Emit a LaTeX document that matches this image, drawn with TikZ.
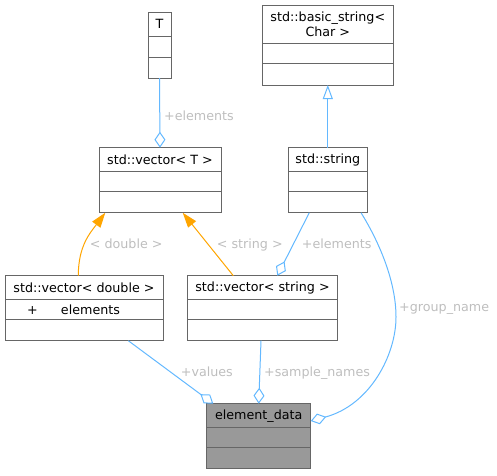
\documentclass[tikz,border=0pt]{standalone}
\usepackage{fontspec}
\setmainfont{DejaVu Sans}
\usetikzlibrary{arrows.meta,positioning}
\definecolor{edgeblue}{HTML}{63B8FF}
\definecolor{inhorange}{HTML}{FFA500}
\definecolor{lblgray}{HTML}{BEBEBE}
\definecolor{boxgray}{HTML}{666666}
\definecolor{cellgray}{HTML}{999999}

\begin{document}
\begin{tikzpicture}[x=1pt,y=-1pt,line width=1pt,
  cell/.style={draw=boxgray,fill=white,inner sep=0pt,outer sep=0pt,minimum height=20,font=\fontsize{12.7}{15}\selectfont},
  head/.style={cell,minimum height=24,anchor=north west},
  lbl/.style={text=lblgray,inner sep=1pt,anchor=base west,font=\fontsize{12.7}{15}\selectfont},
  aggr/.style={draw=edgeblue,-{Diamond[open,length=16,width=11]}},
  inh/.style={draw=inhorange,-{Triangle[length=15,width=10]}},
  gen/.style={draw=edgeblue,-{Triangle[open,length=14,width=10]}}]
\path[use as bounding box] (0,0) rectangle (497,475);
% T
\node[head,minimum width=23] (tT) at (148,12) {T};
\node[cell,minimum width=23,minimum height=21,below=0pt of tT] (tTa) {};
\node[cell,minimum width=23,minimum height=21,below=0pt of tTa] (tTo) {};
% std::vector< T >
\node[head,minimum width=122] (vecT) at (99,147.7) {std::vector< T >};
\node[cell,minimum width=122,below=0pt of vecT] (vecTa) {};
\node[cell,minimum width=122,minimum height=21,below=0pt of vecTa] (vecTo) {};
% std::basic_string< Char >
\node[head,minimum width=131,minimum height=38,align=center] (bs) at (262.3,5) {std::basic\_string<\\Char >};
\node[cell,minimum width=131,below=0pt of bs] (bsa) {};
\node[cell,minimum width=131,minimum height=22,below=0pt of bsa] (bsO) {};
% std::string
\node[head,minimum width=79] (str) at (288.3,147.7) {std::string};
\node[cell,minimum width=79,below=0pt of str] (stra) {};
\node[cell,minimum width=79,minimum height=21,below=0pt of stra] (strO) {};
% std::vector< double >
\node[head,minimum width=158] (vecD) at (5,275.7) {std::vector< double >};
\node[cell,minimum width=158,text width=158,align=left,below=0pt of vecD] (vecDa) {\hspace*{22pt}\makebox[34pt][l]{+}elements};
\node[cell,minimum width=158,minimum height=21,below=0pt of vecDa] (vecDo) {};
% std::vector< string >
\node[head,minimum width=150.4] (vecS) at (187.3,275.7) {std::vector< string >};
\node[cell,minimum width=150.4,below=0pt of vecS] (vecSa) {};
\node[cell,minimum width=150.4,minimum height=21,below=0pt of vecSa] (vecSo) {};
% element_data
\node[head,fill=cellgray,minimum width=104] (ed) at (206.7,403.7) {element\_data};
\node[cell,fill=cellgray,minimum width=104,below=0pt of ed] (eda) {};
\node[cell,fill=cellgray,minimum width=104,minimum height=21,below=0pt of eda] (edo) {};

% connectors
\draw[aggr] (tTo.south) -- (vecT.north);
\draw[gen] (str.north) -- (bsO.south);
\draw[inh] ([xshift=-5.7]vecD.north) .. controls +(0,-30) and +(-15,20) .. ([xshift=-54.7]vecTo.south);
\draw[inh] ([xshift=-29.2]vecS.north) -- ([xshift=22.7]vecTo.south);
\draw[aggr] ([xshift=-18.5]strO.south) -- ([xshift=14.8]vecS.north);
\draw[aggr] ([xshift=44.3]vecDo.south) -- ([xshift=-45.4]ed.north);
\draw[aggr] ([xshift=-1.5]vecSo.south) -- (ed.north);
\draw[aggr] ([xshift=33.2]strO.south) .. controls (378,240) and (396,280) .. (396,317)
  .. controls (396,355) and (370,405) .. ([yshift=-5.3]ed.east);

% labels
\node[lbl] (lElT) at (162.7,120) {+elements};
\node[lbl] (lDbl) at (88.4,248.3) {< double >};
\node[lbl] (lStr) at (215.4,248.3) {< string >};
\node[lbl] (lElS) at (300.4,248.3) {+elements};
\node[lbl] (lVal) at (179.4,376.7) {+values};
\node[lbl] (lSmp) at (262.7,376.7) {+sample\_names};
\node[lbl] (lGrp) at (397.7,311.7) {+group\_name};
\end{tikzpicture}
\end{document}
